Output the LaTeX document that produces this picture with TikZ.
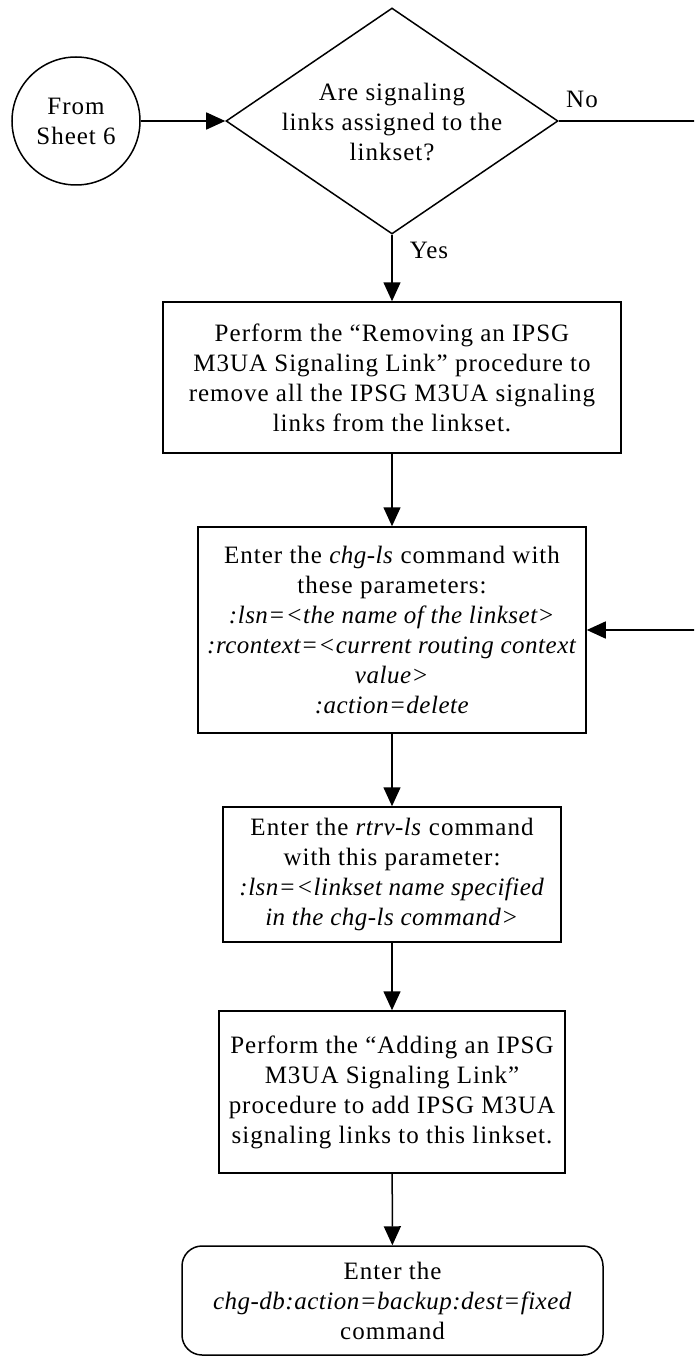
\documentclass[tikz,border=0pt]{standalone}
\usepackage{fontspec}
\setmainfont{Liberation Serif}[LetterSpace=4, ItalicFeatures={LetterSpace=2}]
\usetikzlibrary{shapes.geometric,arrows.meta}
\tikzset{
  txt/.style={font=\fontsize{25}{30}\selectfont, align=center},
  base/.style={draw, line width=1.5pt, inner sep=0pt, txt},
  proc/.style={base, rectangle},
  term/.style={base, rectangle, rounded corners=20pt},
  conn/.style={base, circle, minimum size=128pt},
  dec/.style={draw, line width=1.5pt, diamond, inner sep=0pt, minimum width=332pt, minimum height=226pt},
  arr/.style={line width=1.5pt, -{Triangle[length=19pt,width=17pt]}},
  plain/.style={line width=1.5pt}
}
\begin{document}
\begin{tikzpicture}[x=1pt,y=-1pt]
\useasboundingbox (0,0) rectangle (694,1356);
\clip (0,0) rectangle (694,1356);
\node[conn] (c) at (76,121) {From\\Sheet 6};
\node[dec] (d) at (392,121) {};
\node[txt] (dt) at (392,122) {Are signaling\\links assigned to the\\linkset?};
\node[proc, minimum width=458pt, minimum height=151pt] (b1) at (392,377.5)
  {Perform the ``Removing an IPSG\\M3UA Signaling Link'' procedure to\\remove all the IPSG M3UA signaling\\links from the linkset.};
\node[proc, minimum width=388pt, minimum height=206pt] (b2) at (392,630)
  {Enter the \textit{chg-ls} command with\\these parameters:\\\textit{:lsn=<the name of the linkset>}\\\textit{:rcontext=<current routing context}\\\textit{value>}\\\textit{:action=delete}};
\node[proc, minimum width=338pt, minimum height=135pt] (b3) at (392,874.5)
  {Enter the \textit{rtrv-ls} command\\with this parameter:\\\textit{:lsn=<linkset name specified}\\\textit{in the chg-ls command>}};
\node[proc, minimum width=346pt, minimum height=162pt] (b4) at (392,1092)
  {Perform the ``Adding an IPSG\\M3UA Signaling Link''\\procedure to add IPSG M3UA\\signaling links to this linkset.};
\node[term, minimum width=421pt, minimum height=109pt] (t) at (392.5,1300.5)
  {Enter the\\\textit{chg-db:action=backup:dest=fixed}\\command};
\node[txt] (yes) at (429,250) {Yes};
\node[txt] (no) at (582,99) {No};
\coordinate (r1) at (705,121);
\coordinate (r2) at (705,630);
\draw[arr] (c) -- (d);
\draw[arr] (d.south) -- (b1.north);
\draw[arr] (b1) -- (b2);
\draw[arr] (b2) -- (b3);
\draw[arr] (b3) -- (b4);
\draw[arr] (b4) -- (t);
\draw[arr] (d.east) -- (r1) -- (r2) -- (b2.east);
\end{tikzpicture}
\end{document}
